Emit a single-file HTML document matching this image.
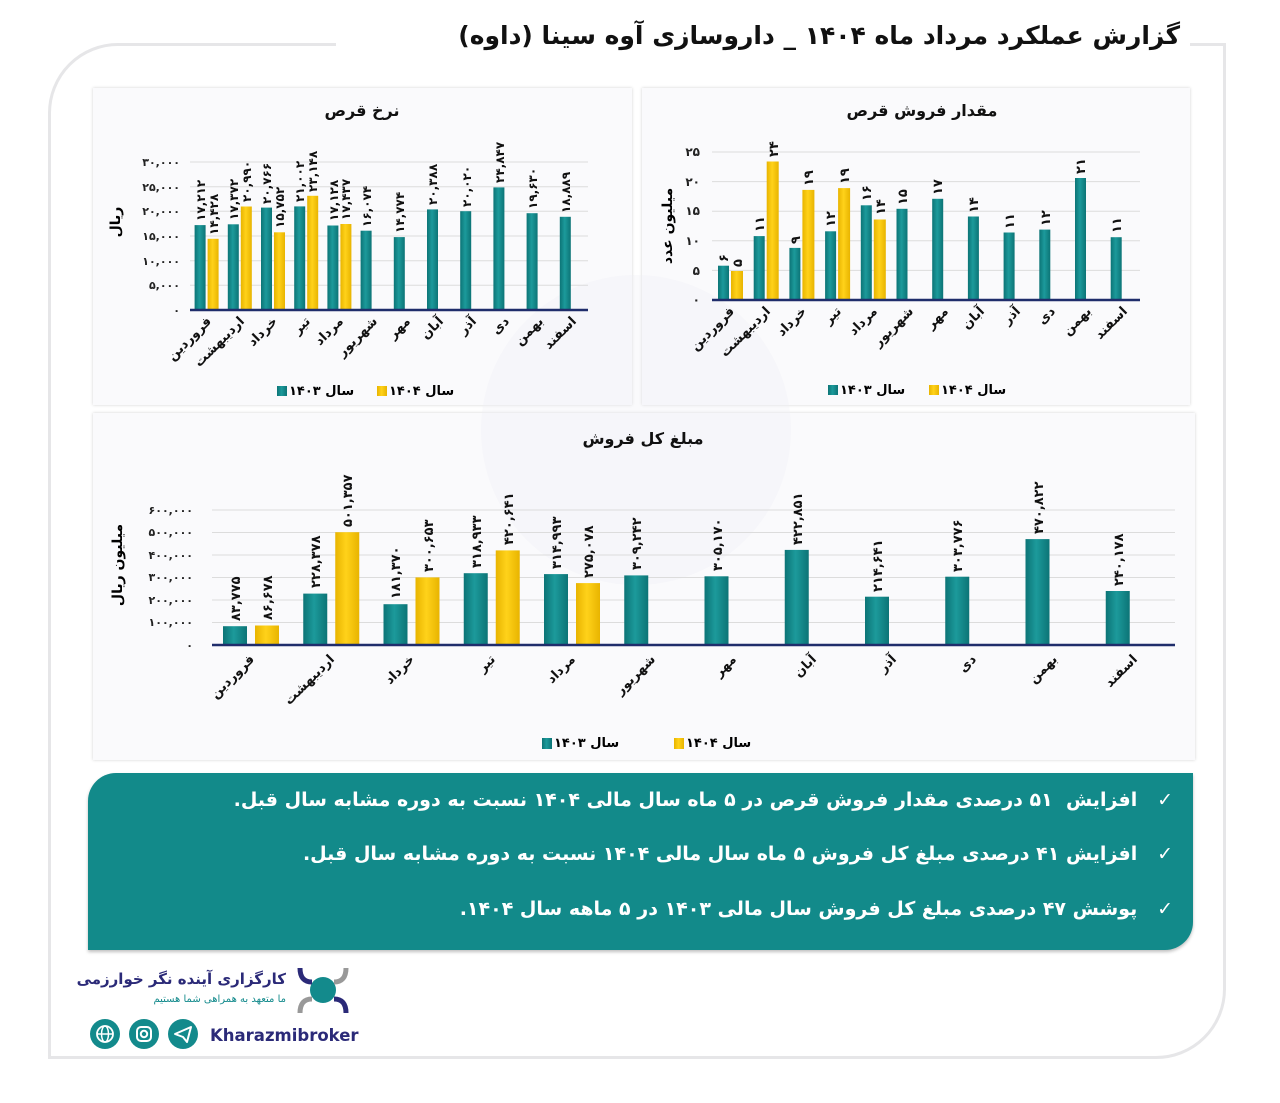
<!DOCTYPE html>
<html><head><meta charset="utf-8">
<style>
body{margin:0;background:#fff;width:1280px;height:1103px;overflow:hidden;position:relative;font-family:"DejaVu Sans","Liberation Sans",sans-serif;}
.frame{position:absolute;left:48px;top:43px;width:1178px;height:1016px;border:3px solid #e6e6e8;border-radius:70px 0 70px 0;box-sizing:border-box;}
.title{position:absolute;left:336px;top:16px;width:844px;padding-right:10px;height:40px;background:#fff;text-align:right;direction:rtl;font-weight:bold;font-size:25px;color:#111;line-height:40px;}
.panel{position:absolute;background:#fafafc;box-shadow:0 0 3px rgba(0,0,0,.18);}
.box{position:absolute;left:88px;top:773px;width:1105px;height:177px;background:#128a8a;border-radius:28px 0 28px 0;color:#fff;direction:rtl;font-weight:bold;font-size:19px;box-shadow:0 2px 3px rgba(0,0,0,.25);}
.box div{position:absolute;right:20px;white-space:nowrap;}
svg text{font-family:"DejaVu Sans",sans-serif;}
</style></head><body>
<div class="frame"></div>
<div class="title">گزارش عملکرد مرداد ماه ۱۴۰۴ _ داروسازی آوه سینا (داوه)</div>
<div class="panel" style="left:93px;top:88px;width:539px;height:317px"></div>
<div class="panel" style="left:642px;top:88px;width:548px;height:317px"></div>
<div class="panel" style="left:93px;top:413px;width:1102px;height:347px"></div>
<svg width="1280" height="1103" style="position:absolute;left:0;top:0">
<defs>
<linearGradient id="tg" x1="0" x2="1"><stop offset="0" stop-color="#0c7476"/><stop offset=".45" stop-color="#1c9a9b"/><stop offset="1" stop-color="#0c7476"/></linearGradient>
<linearGradient id="yg" x1="0" x2="1"><stop offset="0" stop-color="#e8b400"/><stop offset=".45" stop-color="#ffd21a"/><stop offset="1" stop-color="#e8b400"/></linearGradient>
</defs>
<circle cx="636" cy="430" r="155" fill="#eef0f5" opacity=".3"/>
<g font-weight="bold" fill="#111">
<text x="362" y="116" font-size="16" text-anchor="middle">نرخ قرص</text>
<text x="922" y="116" font-size="16" text-anchor="middle">مقدار فروش قرص</text>
<text x="643" y="444" font-size="16" text-anchor="middle">مبلغ کل فروش</text>
</g>
<!-- Chart 1 -->
<g stroke="#dcdcdc" stroke-width="1">
<line x1="190" x2="588" y1="285.3" y2="285.3"/><line x1="190" x2="588" y1="260.7" y2="260.7"/><line x1="190" x2="588" y1="236" y2="236"/><line x1="190" x2="588" y1="211.3" y2="211.3"/><line x1="190" x2="588" y1="186.7" y2="186.7"/><line x1="190" x2="588" y1="162" y2="162"/>
</g>
<g font-size="11" font-weight="bold" text-anchor="end" fill="#222">
<text x="180" y="314">۰</text><text x="180" y="289">۵,۰۰۰</text><text x="180" y="265">۱۰,۰۰۰</text><text x="180" y="240">۱۵,۰۰۰</text><text x="180" y="215">۲۰,۰۰۰</text><text x="180" y="191">۲۵,۰۰۰</text><text x="180" y="166">۳۰,۰۰۰</text>
</g>
<text transform="translate(120,222) rotate(-90)" font-size="14" font-weight="bold" text-anchor="middle">ریال</text>
<g fill="url(#tg)">
<rect x="194.6" y="225.1" width="11" height="84.9"/><rect x="227.8" y="224.3" width="11" height="85.7"/><rect x="261" y="207.6" width="11" height="102.4"/><rect x="294.2" y="206.4" width="11" height="103.6"/><rect x="327.4" y="225.5" width="11" height="84.5"/><rect x="360.6" y="230.7" width="11" height="79.3"/><rect x="393.8" y="237.1" width="11" height="72.9"/><rect x="427" y="209.4" width="11" height="100.6"/><rect x="460.2" y="211.2" width="11" height="98.8"/><rect x="493.4" y="187.4" width="11" height="122.6"/><rect x="526.6" y="213.2" width="11" height="96.8"/><rect x="559.8" y="216.8" width="11" height="93.2"/>
</g>
<g fill="url(#yg)">
<rect x="207.6" y="238.8" width="11" height="71.2"/><rect x="240.8" y="206.5" width="11" height="103.5"/><rect x="274" y="232.3" width="11" height="77.7"/><rect x="307.2" y="195.8" width="11" height="114.2"/><rect x="340.4" y="224" width="11" height="86"/>
</g>
<line x1="190" x2="588" y1="310" y2="310" stroke="#1f2d6b" stroke-width="2.5"/>
<g font-size="12" font-weight="bold" fill="#111">
<text transform="translate(205,221) rotate(-90)">۱۷,۲۱۲</text>
<text transform="translate(238,220) rotate(-90)">۱۷,۳۷۲</text>
<text transform="translate(271,204) rotate(-90)">۲۰,۷۶۶</text>
<text transform="translate(304,202) rotate(-90)">۲۱,۰۰۲</text>
<text transform="translate(338,221) rotate(-90)">۱۷,۱۲۸</text>
<text transform="translate(371,227) rotate(-90)">۱۶,۰۷۴</text>
<text transform="translate(404,233) rotate(-90)">۱۴,۷۷۴</text>
<text transform="translate(437,205) rotate(-90)">۲۰,۳۸۸</text>
<text transform="translate(471,207) rotate(-90)">۲۰,۰۲۰</text>
<text transform="translate(504,183) rotate(-90)">۲۴,۸۴۷</text>
<text transform="translate(537,209) rotate(-90)">۱۹,۶۳۰</text>
<text transform="translate(570,213) rotate(-90)">۱۸,۸۸۹</text>
<text transform="translate(218,235) rotate(-90)">۱۴,۴۲۸</text>
<text transform="translate(251,202) rotate(-90)">۲۰,۹۹۰</text>
<text transform="translate(284,228) rotate(-90)">۱۵,۷۵۲</text>
<text transform="translate(317,192) rotate(-90)">۲۳,۱۴۸</text>
<text transform="translate(350,220) rotate(-90)">۱۷,۴۳۷</text>
</g>
<g font-size="13" font-weight="bold" text-anchor="end" fill="#111">
<text transform="translate(212,322) rotate(-45)">فروردین</text>
<text transform="translate(245,322) rotate(-45)">اردیبهشت</text>
<text transform="translate(278,322) rotate(-45)">خرداد</text>
<text transform="translate(311,322) rotate(-45)">تیر</text>
<text transform="translate(344,322) rotate(-45)">مرداد</text>
<text transform="translate(378,322) rotate(-45)">شهریور</text>
<text transform="translate(411,322) rotate(-45)">مهر</text>
<text transform="translate(444,322) rotate(-45)">آبان</text>
<text transform="translate(477,322) rotate(-45)">آذر</text>
<text transform="translate(510,322) rotate(-45)">دی</text>
<text transform="translate(544,322) rotate(-45)">بهمن</text>
<text transform="translate(577,322) rotate(-45)">اسفند</text>
</g>
<rect x="277" y="386" width="10" height="10" fill="url(#tg)"/><text x="289" y="395" font-size="13" font-weight="bold">سال ۱۴۰۳</text>
<rect x="377" y="386" width="10" height="10" fill="url(#yg)"/><text x="389" y="395" font-size="13" font-weight="bold">سال ۱۴۰۴</text>
<!-- Chart 2 -->
<g stroke="#dcdcdc" stroke-width="1">
<line x1="712" x2="1140" y1="270.4" y2="270.4"/><line x1="712" x2="1140" y1="240.8" y2="240.8"/><line x1="712" x2="1140" y1="211.2" y2="211.2"/><line x1="712" x2="1140" y1="181.6" y2="181.6"/><line x1="712" x2="1140" y1="152" y2="152"/>
</g>
<g font-size="12" font-weight="bold" text-anchor="end" fill="#222">
<text x="700" y="304">۰</text><text x="700" y="275">۵</text><text x="700" y="245">۱۰</text><text x="700" y="215">۱۵</text><text x="700" y="186">۲۰</text><text x="700" y="156">۲۵</text>
</g>
<text transform="translate(672,226) rotate(-90)" font-size="14" font-weight="bold" text-anchor="middle">میلیون عدد</text>
<g fill="url(#tg)">
<rect x="718" y="265.7" width="11" height="34.3"/><rect x="753.7" y="236.1" width="11" height="63.9"/><rect x="789.4" y="247.9" width="11" height="52.1"/><rect x="825.1" y="231.3" width="11" height="68.7"/><rect x="860.8" y="205.3" width="11" height="94.7"/><rect x="896.5" y="208.8" width="11" height="91.2"/><rect x="932.2" y="198.8" width="11" height="101.2"/><rect x="967.9" y="216.5" width="11" height="83.5"/><rect x="1003.6" y="232.5" width="11" height="67.5"/><rect x="1039.3" y="229.6" width="11" height="70.4"/><rect x="1075" y="178" width="11" height="122"/><rect x="1110.7" y="237.2" width="11" height="62.8"/>
</g>
<g fill="url(#yg)">
<rect x="731" y="271" width="12" height="29"/><rect x="766.7" y="161.5" width="12" height="138.5"/><rect x="802.4" y="189.9" width="12" height="110.1"/><rect x="838.1" y="188.1" width="12" height="111.9"/><rect x="873.8" y="219.5" width="12" height="80.5"/>
</g>
<line x1="712" x2="1140" y1="300" y2="300" stroke="#1f2d6b" stroke-width="2.5"/>
<g font-size="13" font-weight="bold" fill="#111">
<text transform="translate(728,262) rotate(-90)">۶</text>
<text transform="translate(764,232) rotate(-90)">۱۱</text>
<text transform="translate(800,244) rotate(-90)">۹</text>
<text transform="translate(835,227) rotate(-90)">۱۲</text>
<text transform="translate(871,201) rotate(-90)">۱۶</text>
<text transform="translate(907,205) rotate(-90)">۱۵</text>
<text transform="translate(942,195) rotate(-90)">۱۷</text>
<text transform="translate(978,213) rotate(-90)">۱۴</text>
<text transform="translate(1014,229) rotate(-90)">۱۱</text>
<text transform="translate(1050,226) rotate(-90)">۱۲</text>
<text transform="translate(1085,174) rotate(-90)">۲۱</text>
<text transform="translate(1121,233) rotate(-90)">۱۱</text>
<text transform="translate(742,267) rotate(-90)">۵</text>
<text transform="translate(778,157) rotate(-90)">۲۴</text>
<text transform="translate(813,186) rotate(-90)">۱۹</text>
<text transform="translate(849,184) rotate(-90)">۱۹</text>
<text transform="translate(885,215) rotate(-90)">۱۴</text>
</g>
<g font-size="13" font-weight="bold" text-anchor="end" fill="#111">
<text transform="translate(735,312) rotate(-45)">فروردین</text>
<text transform="translate(771,312) rotate(-45)">اردیبهشت</text>
<text transform="translate(807,312) rotate(-45)">خرداد</text>
<text transform="translate(842,312) rotate(-45)">تیر</text>
<text transform="translate(878,312) rotate(-45)">مرداد</text>
<text transform="translate(914,312) rotate(-45)">شهریور</text>
<text transform="translate(949,312) rotate(-45)">مهر</text>
<text transform="translate(985,312) rotate(-45)">آبان</text>
<text transform="translate(1021,312) rotate(-45)">آذر</text>
<text transform="translate(1056,312) rotate(-45)">دی</text>
<text transform="translate(1092,312) rotate(-45)">بهمن</text>
<text transform="translate(1128,312) rotate(-45)">اسفند</text>
</g>
<rect x="828" y="385" width="10" height="10" fill="url(#tg)"/><text x="840" y="394" font-size="13" font-weight="bold">سال ۱۴۰۳</text>
<rect x="929" y="385" width="10" height="10" fill="url(#yg)"/><text x="941" y="394" font-size="13" font-weight="bold">سال ۱۴۰۴</text>
<!-- Chart 3 -->
<g stroke="#dcdcdc" stroke-width="1">
<line x1="212" x2="1175" y1="622.5" y2="622.5"/><line x1="212" x2="1175" y1="600" y2="600"/><line x1="212" x2="1175" y1="577.5" y2="577.5"/><line x1="212" x2="1175" y1="555" y2="555"/><line x1="212" x2="1175" y1="532.5" y2="532.5"/><line x1="212" x2="1175" y1="510" y2="510"/>
</g>
<g font-size="11" font-weight="bold" text-anchor="end" fill="#222">
<text x="193" y="649">۰</text><text x="193" y="626">۱۰۰,۰۰۰</text><text x="193" y="604">۲۰۰,۰۰۰</text><text x="193" y="581">۳۰۰,۰۰۰</text><text x="193" y="559">۴۰۰,۰۰۰</text><text x="193" y="536">۵۰۰,۰۰۰</text><text x="193" y="514">۶۰۰,۰۰۰</text>
</g>
<text transform="translate(122,565) rotate(-90)" font-size="14" font-weight="bold" text-anchor="middle">میلیون ریال</text>
<g fill="url(#tg)">
<rect x="223" y="626.2" width="24" height="18.8"/><rect x="303.25" y="593.6" width="24" height="51.4"/><rect x="383.5" y="604.2" width="24" height="40.8"/><rect x="463.75" y="573.2" width="24" height="71.8"/><rect x="544" y="574.1" width="24" height="70.9"/><rect x="624.25" y="575.4" width="24" height="69.6"/><rect x="704.5" y="576.3" width="24" height="68.7"/><rect x="784.75" y="549.9" width="24" height="95.1"/><rect x="865" y="596.7" width="24" height="48.3"/><rect x="945.25" y="576.7" width="24" height="68.3"/><rect x="1025.5" y="539.1" width="24" height="105.9"/><rect x="1105.75" y="591" width="24" height="54"/>
</g>
<g fill="url(#yg)">
<rect x="255" y="625.5" width="24" height="19.5"/><rect x="335.25" y="532.2" width="24" height="112.8"/><rect x="415.5" y="577.4" width="24" height="67.6"/><rect x="495.75" y="550.4" width="24" height="94.6"/><rect x="576" y="583.1" width="24" height="61.9"/>
</g>
<line x1="212" x2="1175" y1="645" y2="645" stroke="#1f2d6b" stroke-width="2.5"/>
<g font-size="13" font-weight="bold" fill="#111">
<text transform="translate(240,621) rotate(-90)">۸۳,۷۷۵</text>
<text transform="translate(320,588) rotate(-90)">۲۲۸,۳۷۸</text>
<text transform="translate(400,599) rotate(-90)">۱۸۱,۳۷۰</text>
<text transform="translate(481,568) rotate(-90)">۳۱۸,۹۳۳</text>
<text transform="translate(561,569) rotate(-90)">۳۱۴,۹۹۳</text>
<text transform="translate(641,570) rotate(-90)">۳۰۹,۲۴۲</text>
<text transform="translate(722,571) rotate(-90)">۳۰۵,۱۷۰</text>
<text transform="translate(802,545) rotate(-90)">۴۲۲,۸۵۱</text>
<text transform="translate(882,592) rotate(-90)">۲۱۴,۶۴۱</text>
<text transform="translate(962,572) rotate(-90)">۳۰۳,۷۷۶</text>
<text transform="translate(1043,534) rotate(-90)">۴۷۰,۸۲۲</text>
<text transform="translate(1123,586) rotate(-90)">۲۴۰,۱۷۸</text>
<text transform="translate(272,620) rotate(-90)">۸۶,۶۷۸</text>
<text transform="translate(352,527) rotate(-90)">۵۰۱,۳۵۷</text>
<text transform="translate(433,572) rotate(-90)">۳۰۰,۶۵۳</text>
<text transform="translate(513,545) rotate(-90)">۴۲۰,۶۴۱</text>
<text transform="translate(593,578) rotate(-90)">۲۷۵,۰۷۸</text>
</g>
<g font-size="13" font-weight="bold" text-anchor="end" fill="#111">
<text transform="translate(255,660) rotate(-45)">فروردین</text>
<text transform="translate(335,660) rotate(-45)">اردیبهشت</text>
<text transform="translate(415,660) rotate(-45)">خرداد</text>
<text transform="translate(496,660) rotate(-45)">تیر</text>
<text transform="translate(576,660) rotate(-45)">مرداد</text>
<text transform="translate(656,660) rotate(-45)">شهریور</text>
<text transform="translate(737,660) rotate(-45)">مهر</text>
<text transform="translate(817,660) rotate(-45)">آبان</text>
<text transform="translate(897,660) rotate(-45)">آذر</text>
<text transform="translate(977,660) rotate(-45)">دی</text>
<text transform="translate(1058,660) rotate(-45)">بهمن</text>
<text transform="translate(1138,660) rotate(-45)">اسفند</text>
</g>
<rect x="542" y="738" width="10" height="11" fill="url(#tg)"/><text x="554" y="747" font-size="13" font-weight="bold">سال ۱۴۰۳</text>
<rect x="674" y="738" width="10" height="11" fill="url(#yg)"/><text x="686" y="747" font-size="13" font-weight="bold">سال ۱۴۰۴</text>
<!-- logo -->
<g>
<circle cx="323" cy="990" r="13" fill="#138a8c"/>
<path d="M300 968 q0 14 12 14" stroke="#2b2a78" stroke-width="5" fill="none"/>
<path d="M346 968 q0 14 -12 14" stroke="#999" stroke-width="5" fill="none"/>
<path d="M300 1013 q0 -14 12 -14" stroke="#999" stroke-width="5" fill="none"/>
<path d="M346 1013 q0 -14 -12 -14" stroke="#2b2a78" stroke-width="5" fill="none"/>
<text x="286" y="984" font-size="15" font-weight="bold" fill="#2b2a78" text-anchor="end">کارگزاری آینده نگر خوارزمی</text>
<text x="286" y="1002" font-size="10" fill="#138a8c" text-anchor="end">ما متعهد به همراهی شما هستیم</text>
<circle cx="105" cy="1034" r="15" fill="#138a8c"/><circle cx="144" cy="1034" r="15" fill="#138a8c"/><circle cx="183" cy="1034" r="15" fill="#138a8c"/>
<circle cx="105" cy="1034" r="8" stroke="#fff" stroke-width="1.8" fill="none"/><ellipse cx="105" cy="1034" rx="3.5" ry="8" stroke="#fff" stroke-width="1.5" fill="none"/><line x1="97" x2="113" y1="1034" y2="1034" stroke="#fff" stroke-width="1.5"/>
<rect x="137" y="1027" width="14" height="14" rx="4" stroke="#fff" stroke-width="2" fill="none"/><circle cx="144" cy="1034" r="3.2" stroke="#fff" stroke-width="2" fill="none"/>
<path d="M175 1034 l16 -7 l-4 15 l-4 -5 z" stroke="#fff" stroke-width="2" fill="none" stroke-linejoin="round"/>
<text x="210" y="1041" font-family="Liberation Sans" font-size="16.5" font-weight="bold" fill="#2b2a78">Kharazmibroker</text>
</g>
</svg>
<div class="box">
<div style="top:16px">✓&nbsp;&nbsp; افزایش&nbsp; ۵۱ درصدی مقدار فروش قرص در ۵ ماه سال مالی ۱۴۰۴ نسبت به دوره مشابه سال قبل.</div>
<div style="top:70px">✓&nbsp;&nbsp; افزایش ۴۱ درصدی مبلغ کل فروش ۵ ماه سال مالی ۱۴۰۴ نسبت به دوره مشابه سال قبل.</div>
<div style="top:125px">✓&nbsp;&nbsp; پوشش ۴۷ درصدی مبلغ کل فروش سال مالی ۱۴۰۳ در ۵ ماهه سال ۱۴۰۴.</div>
</div>
</body></html>
